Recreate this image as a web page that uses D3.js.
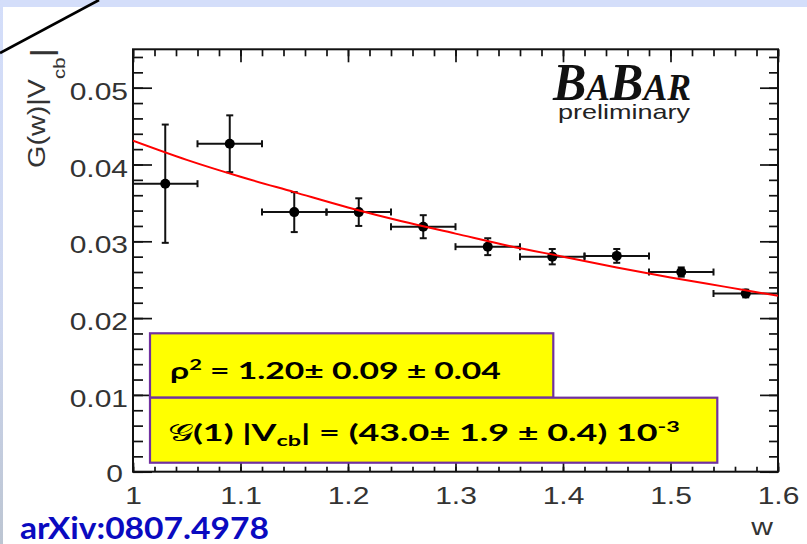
<!DOCTYPE html>
<html>
<head>
<meta charset="utf-8">
<script src="https://cdn.jsdelivr.net/npm/d3@7"></script>
<style>
  html, body { margin: 0; padding: 0; background: #fff; }
  svg { display: block; }
</style>
</head>
<body>
<svg id="chart" width="807" height="544"></svg>
<script>
// G(w)|Vcb| measured in bins of the recoil variable w
const wBins      = [1.03, 1.09, 1.15, 1.21, 1.27, 1.33, 1.39, 1.45, 1.51, 1.57];
const wHalfWidth = [0.03, 0.03, 0.03, 0.03, 0.03, 0.03, 0.03, 0.03, 0.03, 0.03];
const gVcb       = [0.0375, 0.0427, 0.0338, 0.0338, 0.0319, 0.0293, 0.0280, 0.0281, 0.0260, 0.0232];
const gVcbErr    = [0.0077, 0.0037, 0.0026, 0.0018, 0.0015, 0.0011, 0.0010, 0.0009, 0.0006, 0.0005];

// fitted form-factor curve
const fitW = [1.00, 1.05, 1.10, 1.15, 1.20, 1.25, 1.30, 1.35, 1.40, 1.45, 1.50, 1.55, 1.60];
const fitG = [0.0431, 0.0406, 0.0384, 0.0364, 0.0344, 0.0326, 0.0310, 0.0294, 0.0280, 0.0266, 0.0253, 0.0241, 0.0229];

// axis ticks
const xTicks      = [1, 1.1, 1.2, 1.3, 1.4, 1.5, 1.6];
const xTickLabels = ["1", "1.1", "1.2", "1.3", "1.4", "1.5", "1.6"];
const yTicks      = [0, 0.01, 0.02, 0.03, 0.04, 0.05];
const yTickLabels = ["0", "0.01", "0.02", "0.03", "0.04", "0.05"];

const svg = d3.select("#chart");
const W = 807, H = 544;
const frame = { left: 133, right: 778, top: 49.3, bottom: 471.7 };

// ---- slide background ----
const defs = svg.append("defs");
const grad = defs.append("linearGradient").attr("id", "edgeGrad")
  .attr("x1", 0).attr("y1", 0).attr("x2", 0).attr("y2", 1);
grad.append("stop").attr("offset", "0%").attr("stop-color", "#d4defa");
grad.append("stop").attr("offset", "60%").attr("stop-color", "#cdd6ee");
grad.append("stop").attr("offset", "100%").attr("stop-color", "#bcc5d2");

svg.append("rect").attr("width", W).attr("height", H).attr("fill", "#fff");
svg.append("rect").attr("x", 0).attr("y", 0).attr("width", W).attr("height", 7).attr("fill", "#d4defa");
svg.append("rect").attr("x", 0).attr("y", 0).attr("width", 3).attr("height", H).attr("fill", "url(#edgeGrad)");
svg.append("line").attr("x1", 0).attr("y1", 53).attr("x2", 99).attr("y2", 0)
  .attr("stroke", "#000").attr("stroke-width", 2.6);

// ---- scales ----
const x = d3.scaleLinear().domain([1, 1.6]).range([frame.left, frame.right]);
const y = d3.scaleLinear().domain([0, 0.055]).range([frame.bottom, frame.top]);

const xMinor = d3.range(1, 1.6001, 0.02);
const yMinor = d3.range(0, 0.0551, 0.002);

const axisColor = "#111";
function styleTicks(g) {
  g.select(".domain").remove();
  g.selectAll(".tick line").attr("stroke", axisColor).attr("stroke-width", 1.7);
}

// left axis
svg.append("g").attr("transform", `translate(${frame.left},0)`)
  .call(d3.axisLeft(y).tickValues(yMinor).tickSizeInner(-10).tickSizeOuter(0).tickFormat(""))
  .call(styleTicks);
const yAxisG = svg.append("g").attr("transform", `translate(${frame.left},0)`)
  .call(d3.axisLeft(y).tickValues(yTicks).tickSizeInner(-19).tickSizeOuter(0)
    .tickFormat(d => yTickLabels[yTicks.indexOf(d)]))
  .call(styleTicks);
yAxisG.selectAll(".tick text")
  .attr("x", 0).attr("y", 0).attr("dy", null)
  .attr("text-anchor", "end")
  .attr("font-family", "'Liberation Sans', Arial, sans-serif")
  .attr("font-size", 24).attr("fill", "#333")
  .attr("transform", d => d === 0 ? "translate(-10,10) scale(1.25,1)" : "translate(-5,11.6) scale(1.25,1)");

// right axis
svg.append("g").attr("transform", `translate(${frame.right},0)`)
  .call(d3.axisRight(y).tickValues(yMinor).tickSizeInner(-9).tickSizeOuter(0).tickFormat(""))
  .call(styleTicks);
svg.append("g").attr("transform", `translate(${frame.right},0)`)
  .call(d3.axisRight(y).tickValues(yTicks).tickSizeInner(-18).tickSizeOuter(0).tickFormat(""))
  .call(styleTicks);

// top axis
svg.append("g").attr("transform", `translate(0,${frame.top})`)
  .call(d3.axisTop(x).tickValues(xMinor).tickSizeInner(-7).tickSizeOuter(0).tickFormat(""))
  .call(styleTicks);
svg.append("g").attr("transform", `translate(0,${frame.top})`)
  .call(d3.axisTop(x).tickValues(xTicks).tickSizeInner(-13).tickSizeOuter(0).tickFormat(""))
  .call(styleTicks);

// bottom axis
svg.append("g").attr("transform", `translate(0,${frame.bottom})`)
  .call(d3.axisBottom(x).tickValues(xMinor).tickSizeInner(-5).tickSizeOuter(0).tickFormat(""))
  .call(styleTicks);
const xAxisG = svg.append("g").attr("transform", `translate(0,${frame.bottom})`)
  .call(d3.axisBottom(x).tickValues(xTicks).tickSizeInner(-9).tickSizeOuter(0)
    .tickFormat(d => xTickLabels[xTicks.indexOf(d)]))
  .call(styleTicks);
xAxisG.selectAll(".tick text")
  .attr("x", 0).attr("y", 0).attr("dy", null)
  .attr("text-anchor", "middle")
  .attr("font-family", "'Liberation Sans', Arial, sans-serif")
  .attr("font-size", 24).attr("fill", "#333")
  .attr("transform", "translate(0,32.3) scale(1.25,1)");

// frame
svg.append("rect")
  .attr("x", frame.left).attr("y", frame.top)
  .attr("width", frame.right - frame.left).attr("height", frame.bottom - frame.top)
  .attr("fill", "none").attr("stroke", axisColor).attr("stroke-width", 2);

// stretch a text element horizontally (in its own frame) to a given width, keeping its left edge
function fitText(sel, width) {
  const bb = sel.node().getBBox();
  const s = width / bb.width;
  const prev = sel.attr("transform") || "";
  sel.attr("transform", `${prev} translate(${bb.x * (1 - s)},0) scale(${s},1)`);
}

// axis titles
svg.append("text")
  .attr("transform", "translate(773,535) scale(1.25,1)")
  .attr("text-anchor", "end")
  .attr("font-family", "'Liberation Sans', Arial, sans-serif")
  .attr("font-size", 24).attr("fill", "#333")
  .text("w");

const yTitleG = svg.append("g").attr("transform", "translate(45,168) rotate(-90)");
const yTitle = yTitleG.append("text")
  .attr("font-family", "'Liberation Sans', Arial, sans-serif")
  .attr("font-size", 24).attr("fill", "#333");
yTitle.append("tspan").text("G(w)|V");
yTitle.append("tspan").attr("font-size", 17).attr("dy", 20).text("cb");
yTitle.append("tspan").attr("font-size", 30).attr("dy", -13).text("|");
fitText(yTitle, 120);

// ---- data: error bars and markers ----
const pts = wBins.map((w, i) => ({ w, h: wHalfWidth[i], g: gVcb[i], e: gVcbErr[i] }));
const dataG = svg.append("g").attr("stroke", "#111").attr("stroke-width", 2);
const cap = 3.5;
pts.forEach(p => {
  const cx = x(p.w), cy = y(p.g);
  const xl = x(p.w - p.h), xr = x(p.w + p.h);
  const yt = y(p.g + p.e), yb = y(p.g - p.e);
  dataG.append("line").attr("x1", xl).attr("x2", xr).attr("y1", cy).attr("y2", cy);
  dataG.append("line").attr("x1", xl).attr("x2", xl).attr("y1", cy - cap).attr("y2", cy + cap);
  dataG.append("line").attr("x1", xr).attr("x2", xr).attr("y1", cy - cap).attr("y2", cy + cap);
  dataG.append("line").attr("x1", cx).attr("x2", cx).attr("y1", yt).attr("y2", yb);
  dataG.append("line").attr("x1", cx - cap).attr("x2", cx + cap).attr("y1", yt).attr("y2", yt);
  dataG.append("line").attr("x1", cx - cap).attr("x2", cx + cap).attr("y1", yb).attr("y2", yb);
});
svg.append("g").selectAll("circle").data(pts).join("circle")
  .attr("cx", d => x(d.w)).attr("cy", d => y(d.g)).attr("r", 5).attr("fill", "#000");

// ---- fit curve ----
defs.append("clipPath").attr("id", "plotClip").append("rect")
  .attr("x", frame.left).attr("y", frame.top)
  .attr("width", frame.right - frame.left).attr("height", frame.bottom - frame.top);
const fitPts = fitW.map((w, i) => [w, fitG[i]]);
svg.append("path")
  .attr("clip-path", "url(#plotClip)")
  .attr("d", d3.line().x(d => x(d[0])).y(d => y(d[1])).curve(d3.curveMonotoneX)(fitPts))
  .attr("fill", "none").attr("stroke", "#ff0000").attr("stroke-width", 2);

// ---- BaBar logo ----
const logo = svg.append("text")
  .attr("x", 553).attr("y", 100)
  .attr("font-family", "'Liberation Serif', 'Times New Roman', serif")
  .attr("font-style", "italic").attr("font-weight", 700).attr("fill", "#111");
logo.append("tspan").attr("font-size", 52).text("B");
logo.append("tspan").attr("font-size", 37).text("A");
logo.append("tspan").attr("font-size", 52).text("B");
logo.append("tspan").attr("font-size", 37).text("AR");
fitText(logo, 139);

const prelim = svg.append("text")
  .attr("x", 558).attr("y", 119)
  .attr("font-family", "'Liberation Sans', Arial, sans-serif")
  .attr("font-size", 20).attr("fill", "#222")
  .text("preliminary");
fitText(prelim, 132);

// ---- result boxes ----
const boxFill = "#ffff00", boxStroke = "#7030a0";
svg.append("rect").attr("x", 150).attr("y", 333.3).attr("width", 403.3).attr("height", 64.4)
  .attr("fill", boxFill).attr("stroke", boxStroke).attr("stroke-width", 2.2);
svg.append("rect").attr("x", 150).attr("y", 397.7).attr("width", 567.3).attr("height", 65)
  .attr("fill", boxFill).attr("stroke", boxStroke).attr("stroke-width", 2.2);

const boxFont = "Lato, 'Open Sans', sans-serif";
const t1 = svg.append("text").attr("x", 170).attr("y", 379)
  .attr("font-family", boxFont).attr("font-weight", 700).attr("font-size", 23).attr("fill", "#000");
t1.append("tspan").text("ρ");
t1.append("tspan").attr("font-size", 15).attr("dy", -9).text("2");
t1.append("tspan").attr("dy", 9).text(" = 1.20\u00b1 0.09 \u00b1 0.04");
fitText(t1, 331);

const t2 = svg.append("text").attr("x", 168).attr("y", 441)
  .attr("font-family", boxFont).attr("font-weight", 700).attr("font-size", 23).attr("fill", "#000");
t2.append("tspan").attr("font-family", "'DejaVu Sans', 'DejaVu Serif', serif").attr("font-weight", 400).text("\u{1D4A2}");
t2.append("tspan").text("(1) |V");
t2.append("tspan").attr("font-size", 15).attr("dy", 5).text("cb");
t2.append("tspan").attr("dy", -5).text("| = (43.0\u00b1 1.9 \u00b1 0.4) 10");
t2.append("tspan").attr("font-size", 15).attr("dy", -9).text("-3");
fitText(t2, 512);

// ---- reference ----
const ref = svg.append("text").attr("x", 20).attr("y", 539)
  .attr("font-family", boxFont).attr("font-weight", 700).attr("font-size", 30).attr("fill", "#0a0ac0")
  .text("arXiv:0807.4978");
fitText(ref, 249);
</script>
</body>
</html>
